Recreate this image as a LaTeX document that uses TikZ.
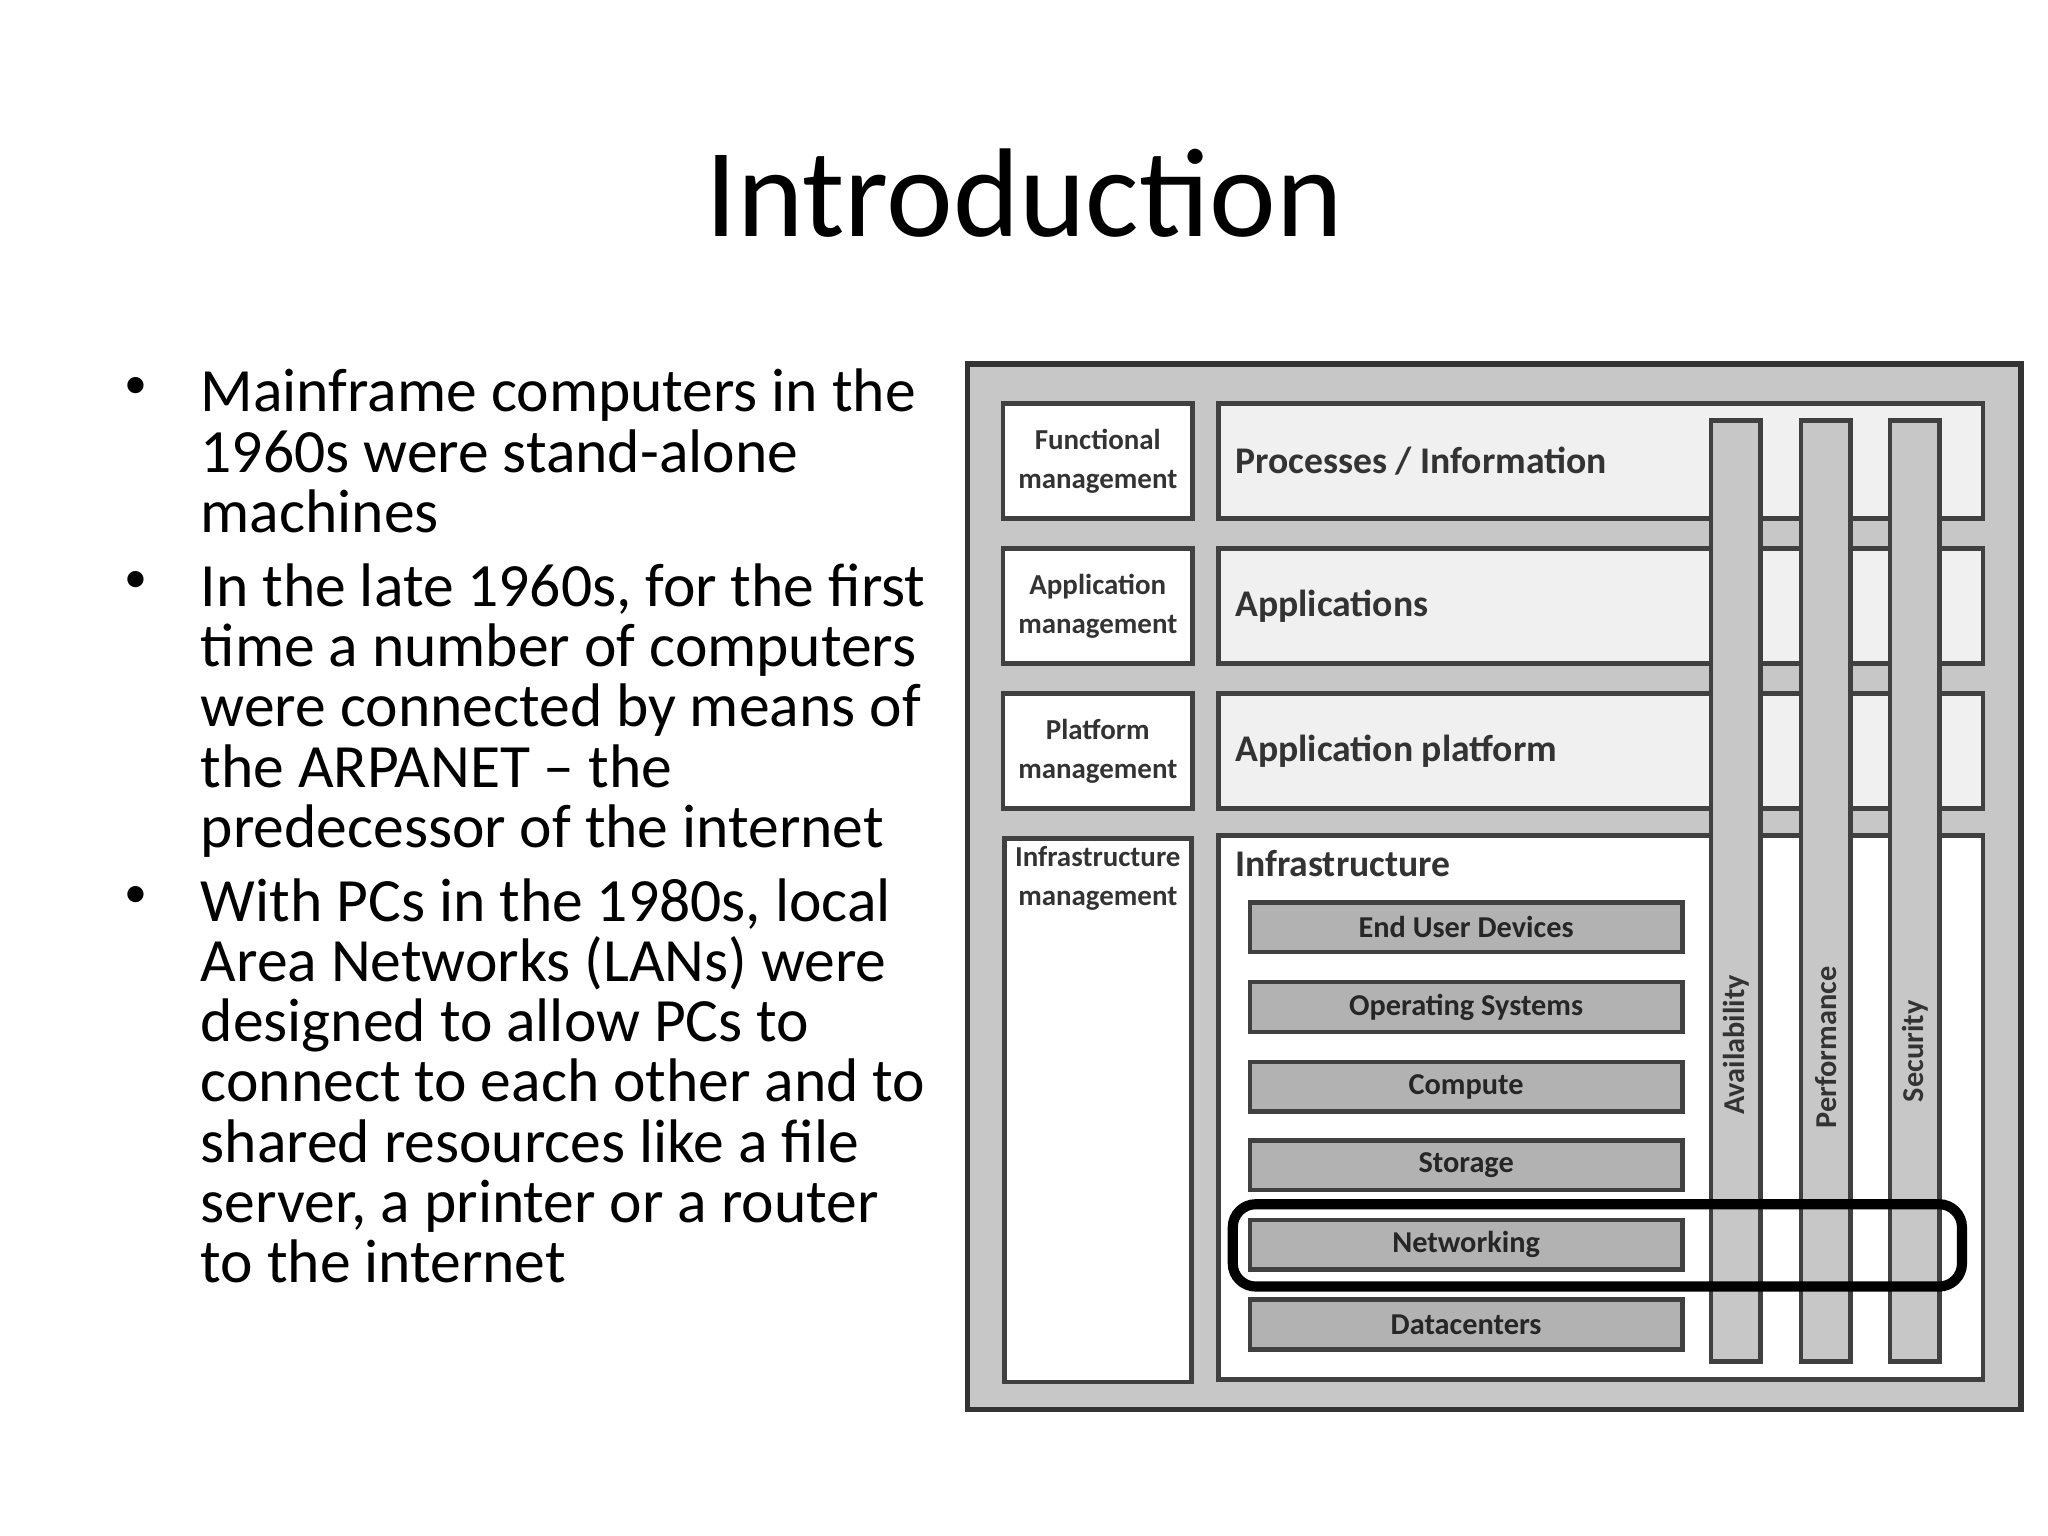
\documentclass[tikz,border=0pt]{standalone}
\usepackage{fontspec}
\setmainfont{Carlito}
\usetikzlibrary{positioning}
\begin{document}
\begin{tikzpicture}[x=0.01cm,y=-0.01cm,
      % Styles
      para/.style={% bullet text
        anchor=north west,
        inner sep=0pt,
        align=left,
        font=\fontsize{13.4}{13.1}\selectfont
      },
      dot/.style={anchor=north west, inner sep=0pt, font=\fontsize{10}{13.1}\selectfont},
      mgmt/.style={% management boxes
        draw=black!75, fill=white, line width=1pt,
        minimum width=1.43cm, align=center,
        font=\fontsize{6.3}{8.5}\selectfont\bfseries, text=black!80
      },
      layer/.style={% layer boxes
        draw=black!75, fill=black!6, line width=1pt,
        minimum width=5.85cm, text=black!80,
        font=\fontsize{8.2}{9}\selectfont\bfseries
      },
      bar/.style={% vertical bars
        draw=black!75, fill=black!22, line width=1pt,
        minimum width=0.38cm, minimum height=7.2cm, inner sep=0pt
      },
      part/.style={% infrastructure parts
        draw=black!75, fill=black!30, line width=1pt,
        minimum width=3.31cm, minimum height=0.38cm, inner sep=0pt, text=black!85,
        font=\fontsize{6.6}{8}\selectfont\bfseries
      }
      ]
      \useasboundingbox (0,0) rectangle (1568,1176);

      % Title
      \node[font=\fontsize{27.5}{30}\selectfont] (title) at (784,148) {Introduction};

      % Bullets
      \node[para] (b1) at (153,282) {Mainframe computers in the\\1960s were stand-alone\\machines};
      \node[para] (b2) at (153,431) {In the late 1960s, for the first\\time a number of computers\\were connected by means of\\the ARPANET -- the\\predecessor of the internet};
      \node[para] (b3) at (153,672) {With PCs in the 1980s, local\\Area Networks (LANs) were\\designed to allow PCs to\\connect to each other and to\\shared resources like a file\\server, a printer or a router\\to the internet};
      \node[dot] (d1) at (95,288) {•};
      \node[dot] (d2) at (95,437) {•};
      \node[dot] (d3) at (95,678) {•};

      % Diagram frame
      \node[draw=black!80, fill=black!22, line width=1.2pt, minimum width=8.06cm, minimum height=8cm] (frame) at (1144,679) {};

      \node[mgmt, minimum height=0.88cm] (fm) at (840.5,353) {Functional\\management};
      \node[mgmt, minimum height=0.88cm] (am) at (840.5,464) {Application\\management};
      \node[mgmt, minimum height=0.88cm] (pm) at (840.5,575) {Platform\\management};
      \node[mgmt, minimum height=4.16cm, anchor=north] (im) at (840.5,640) {};
      \node[anchor=north, inner sep=0pt, align=center, font=\fontsize{6.3}{8.5}\selectfont\bfseries, text=black!80] (iml) at (840.5,647) {Infrastructure\\management};

      \node[layer, minimum height=0.88cm] (proc) at (1225.5,353) {};
      \node[layer, minimum height=0.88cm] (apps) at (1225.5,464) {};
      \node[layer, minimum height=0.88cm] (plat) at (1225.5,575) {};
      \node[layer, minimum height=4.16cm, fill=white] (infra) at (1225.5,848) {};
      \node[anchor=west, inner sep=0pt, font=\fontsize{8.2}{9}\selectfont\bfseries, text=black!80] (procl) at (945,353) {Processes / Information};
      \node[anchor=west, inner sep=0pt, font=\fontsize{8.2}{9}\selectfont\bfseries, text=black!80] (appsl) at (945,464) {Applications};
      \node[anchor=west, inner sep=0pt, font=\fontsize{8.2}{9}\selectfont\bfseries, text=black!80] (platl) at (945,575) {Application platform};
      \node[anchor=west, inner sep=0pt, font=\fontsize{8.2}{9}\selectfont\bfseries, text=black!80] (infral) at (945,661) {Infrastructure};

      \node[bar] (avail) at (1329,682) {};
      \node[bar] (perf) at (1398,682) {};
      \node[bar] (sec) at (1466,682) {};
      \node[rotate=90, font=\fontsize{6.6}{8}\selectfont\bfseries, text=black!80] (availl) at (1329,800) {Availability};
      \node[rotate=90, font=\fontsize{6.6}{8}\selectfont\bfseries, text=black!80] (perfl) at (1398,802) {Performance};
      \node[rotate=90, font=\fontsize{6.6}{8}\selectfont\bfseries, text=black!80] (secl) at (1466,805) {Security};

      \node[part] (eud) at (1122.5,710) {End User Devices};
      \node[part] (os) at (1122.5,771) {Operating Systems};
      \node[part] (comp) at (1122.5,832) {Compute};
      \node[part] (stor) at (1122.5,892) {Storage};
      \node[part] (net) at (1122.5,953) {Networking};
      \node[part] (dc) at (1122.5,1014) {Datacenters};

      \node[draw=black, line width=2.2pt, rounded corners=5pt, minimum width=5.58cm, minimum height=0.63cm] (focus) at (1223,953.5) {};
\end{tikzpicture}
\end{document}
